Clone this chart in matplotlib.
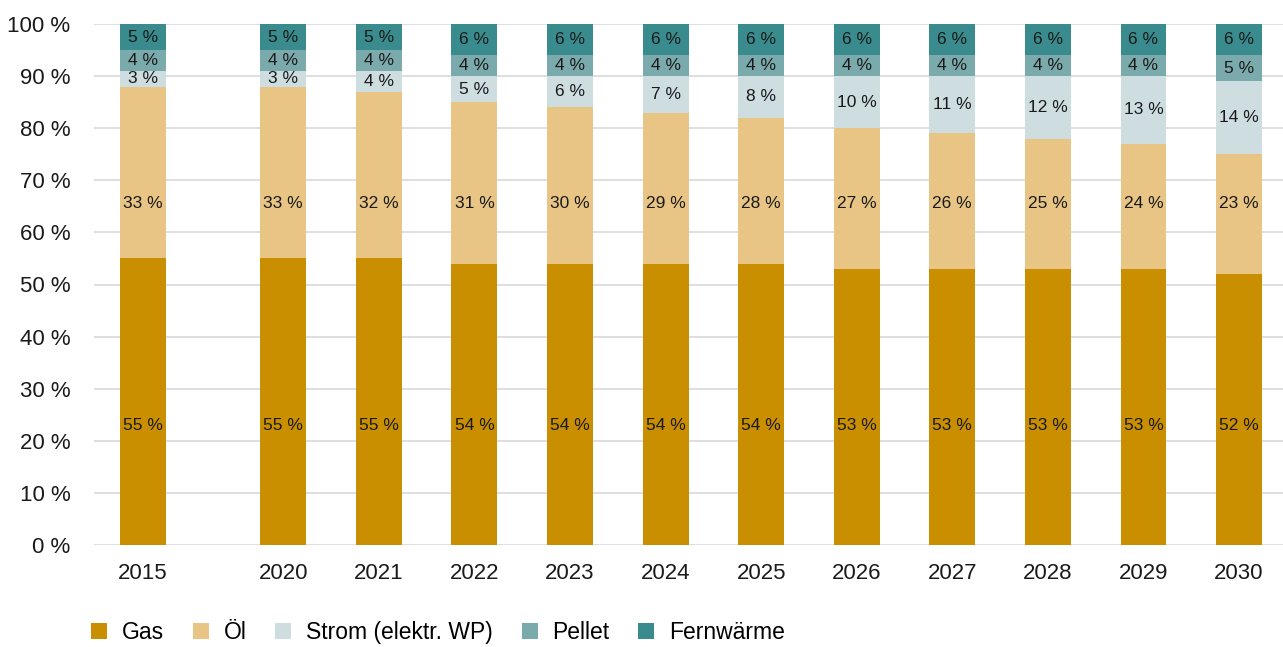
import numpy as np
import matplotlib.pyplot as plt

plt.rcParams['font.family'] = ['Liberation Sans', 'DejaVu Sans']

years = ['2015', '2020', '2021', '2022', '2023', '2024', '2025', '2026', '2027', '2028', '2029', '2030']
gas = [55, 55, 55, 54, 54, 54, 54, 53, 53, 53, 53, 52]
oel = [33, 33, 32, 31, 30, 29, 28, 27, 26, 25, 24, 23]
strom = [3, 3, 4, 5, 6, 7, 8, 10, 11, 12, 13, 14]
pellet = [4, 4, 4, 4, 4, 4, 4, 4, 4, 4, 4, 5]
fernwaerme = [5, 5, 5, 6, 6, 6, 6, 6, 6, 6, 6, 6]

series = [
    ('Gas', gas, '#C98F00'),
    ('Öl', oel, '#E8C485'),
    ('Strom (elektr. WP)', strom, '#CDDDE0'),
    ('Pellet', pellet, '#7BAAAC'),
    ('Fernwärme', fernwaerme, '#3A8B8D'),
]

# 2015 steht etwas abgesetzt von den restlichen Jahren
x = np.array([0] + [1.47 + i for i in range(len(years) - 1)])

fig = plt.figure(figsize=(12.83, 6.47), dpi=100)
ax = fig.add_axes([94 / 1283, 1 - 545 / 647, 1189 / 1283, 521 / 647])

# Gas- und Öl-Beschriftungen sitzen auf fester Höhe, die übrigen mittig
fixed_label_y = {'Gas': 23, 'Öl': 65.6}

bottom = np.zeros(len(years))
for name, vals, color in series:
    vals = np.array(vals, dtype=float)
    ax.bar(x, vals, width=0.48, bottom=bottom, color=color, label=name, zorder=3)
    for xi, b, v in zip(x, bottom, vals):
        yl = fixed_label_y.get(name, b + v / 2)
        ax.text(xi, yl, f'{int(v)} %', ha='center', va='center',
                fontsize=12.5, color='#1a1a1a', zorder=4)
    bottom += vals

ax.set_ylim(0, 100)
ax.set_xlim(-0.51, 11.93)
ax.set_yticks(range(0, 101, 10))
ax.set_yticklabels([f'{v} %' for v in range(0, 101, 10)])
ax.set_xticks(x)
ax.set_xticklabels(years)
ax.tick_params(axis='both', length=0, labelsize=16, colors='#1a1a1a')
ax.tick_params(axis='y', pad=17)
ax.tick_params(axis='x', pad=13)
ax.yaxis.grid(True, color='#D9D9D9', linewidth=1.2, zorder=0)
for s in ax.spines.values():
    s.set_visible(False)

fig.legend(loc='center left', bbox_to_anchor=(0.071, 0.022), ncol=5, frameon=False,
           fontsize=16.5, handlelength=0.7, handleheight=0.7, handletextpad=0.65,
           columnspacing=1.25, borderaxespad=0, borderpad=0)

fig.savefig('out.png', dpi=100)
